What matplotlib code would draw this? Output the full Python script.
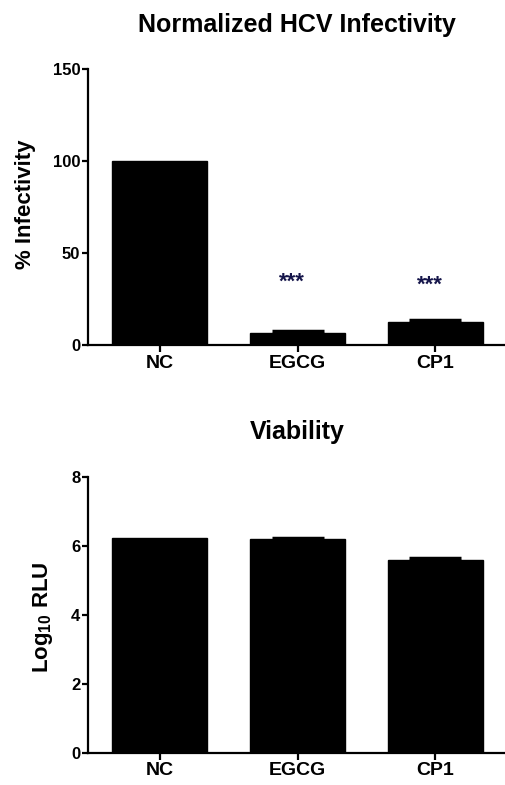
import matplotlib
matplotlib.use("Agg")
import matplotlib.pyplot as plt

plt.rcParams['font.family'] = ['Liberation Sans', 'DejaVu Sans']
plt.rcParams['font.weight'] = 'bold'
plt.rcParams['mathtext.fontset'] = 'custom'
plt.rcParams['mathtext.rm'] = 'Liberation Sans:bold'
plt.rcParams['mathtext.it'] = 'Liberation Sans:bold'
plt.rcParams['mathtext.bf'] = 'Liberation Sans:bold'

categories = ["NC", "EGCG", "CP1"]
infectivity = [100, 6.7, 12.6]
infectivity_err = [0, 0.8, 0.8]
significance = ["", "***", "***"]
sig_y = [0, 34, 32.5]
viability = [6.21, 6.19, 5.6]
viability_err = [0.0, 0.04, 0.04]

fig = plt.figure(figsize=(5.06, 7.85), dpi=100)

def style(ax, ylim, yticks):
    ax.spines['top'].set_visible(False)
    ax.spines['right'].set_visible(False)
    ax.spines['left'].set_linewidth(1.6)
    ax.spines['bottom'].set_linewidth(1.6)
    ax.set_ylim(*ylim)
    ax.set_yticks(yticks)
    ax.set_xlim(-0.518, 2.511)
    ax.tick_params(axis='y', length=4.5, width=1.6, labelsize=12, pad=1)
    ax.tick_params(axis='x', length=5, width=1.6, labelsize=14, pad=2)
    for lbl in ax.get_xticklabels() + ax.get_yticklabels():
        lbl.set_fontweight('bold')

def draw_err(ax, xs, vals, errs):
    px = [xi for xi, e in zip(xs, errs) if e > 0]
    pv = [v for v, e in zip(vals, errs) if e > 0]
    pe = [e for e in errs if e > 0]
    ax.errorbar(px, pv, yerr=pe, fmt='none', ecolor='black',
                elinewidth=2, capsize=19, capthick=2.5)

x = list(range(len(categories)))

# Top panel
ax1 = fig.add_axes([0.174, 0.5605, 0.826, 0.3516])
ax1.bar(x, infectivity, width=0.69, color='black', edgecolor='black')
draw_err(ax1, x, infectivity, infectivity_err)
for xi, s, sy in zip(x, significance, sig_y):
    if s:
        ax1.text(xi - 0.04, sy, s, ha='center', va='center', fontsize=16,
                 color='#15154a', fontweight='bold')
ax1.set_xticks(x)
ax1.set_xticklabels(categories)
style(ax1, (0, 150), [0, 50, 100, 150])
ax1.set_ylabel("% Infectivity", fontsize=16, fontweight='bold')
ax1.yaxis.set_label_coords(-0.125, 0.51)
ax1.set_title("Normalized HCV Infectivity", fontsize=18, fontweight='bold', pad=27)

# Bottom panel
ax2 = fig.add_axes([0.174, 0.0411, 0.826, 0.3516])
ax2.bar(x, viability, width=0.69, color='black', edgecolor='black')
draw_err(ax2, x, viability, viability_err)
ax2.set_xticks(x)
ax2.set_xticklabels(categories)
style(ax2, (0, 8), [0, 2, 4, 6, 8])
ax2.set_ylabel(r"Log$_{10}$ RLU", fontsize=16, fontweight='bold')
ax2.yaxis.set_label_coords(-0.08, 0.49)
ax2.set_title("Viability", fontsize=18, fontweight='bold', pad=27)

fig.savefig("out.png", dpi=100)
